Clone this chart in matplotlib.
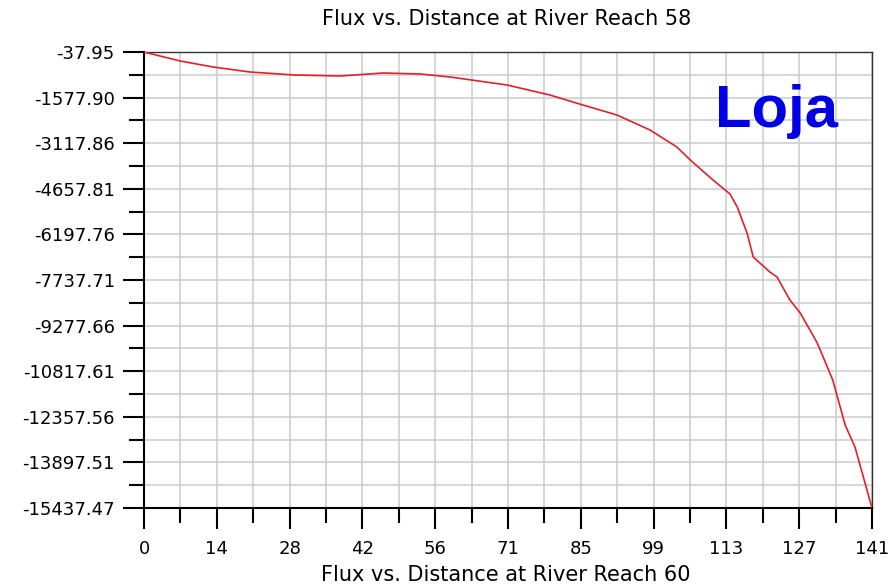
import numpy as np
import matplotlib
matplotlib.use('Agg')
import matplotlib.pyplot as plt
from matplotlib.ticker import FixedLocator

# Distance along the reach and flux values
distance = [0, 7.0, 13.4, 20.5, 29.2, 38.0, 46.3, 53.5, 59.3, 70.3, 78.6, 85.0,
            91.6, 98.0, 103.2, 105.8, 110.2, 113.5, 114.9, 116.8, 118.0, 121.2,
            122.6, 125.1, 127.1, 130.4, 133.4, 135.8, 137.7, 141.0]
flux = [-38, -342, -545, -713, -815, -849, -747, -781, -882, -1152, -1490, -1828,
        -2166, -2672, -3246, -3685, -4361, -4833, -5272, -6150, -6961, -7467,
        -7636, -8413, -8852, -9865, -11115, -12634, -13377, -15437.47]

x_ticks = [0, 14.1, 28.2, 42.3, 56.4, 70.5, 84.6, 98.7, 112.8, 126.9, 141]
x_labels = ['0', '14', '28', '42', '56', '71', '85', '99', '113', '127', '141']
y_ticks = [-37.95, -1577.90, -3117.86, -4657.81, -6197.76, -7737.71, -9277.66,
           -10817.61, -12357.56, -13897.51, -15437.47]
y_labels = ['-37.95', '-1577.90', '-3117.86', '-4657.81', '-6197.76', '-7737.71',
            '-9277.66', '-10817.61', '-12357.56', '-13897.51', '-15437.47']

fig = plt.figure(figsize=(8.96, 5.85), dpi=100)
ax = fig.add_axes([144 / 896, 77 / 585, 728 / 896, 456 / 585])

ax.plot(distance, flux, color='#e3202a', linewidth=1.2, zorder=3)

ax.set_xlim(0, 141)
ax.set_ylim(-15437.47, -37.95)

ax.set_xticks(x_ticks)
ax.set_xticklabels(x_labels)
ax.set_yticks(y_ticks)
ax.set_yticklabels(y_labels)

x_minor = [(a + b) / 2 for a, b in zip(x_ticks[:-1], x_ticks[1:])]
y_minor = [(a + b) / 2 for a, b in zip(y_ticks[:-1], y_ticks[1:])]
ax.xaxis.set_minor_locator(FixedLocator(x_minor))
ax.yaxis.set_minor_locator(FixedLocator(y_minor))

# tick lengths in points (1pt = 1.39px here)
ax.grid(True, which='both', color='#cccccc', linewidth=1.1, zorder=0)
ax.set_axisbelow(True)

ax.tick_params(which='major', direction='out', length=15, width=1.5, color='black',
               labelsize=13, pad=6)
ax.tick_params(axis='x', which='major', pad=8)
ax.tick_params(which='minor', direction='out', length=11, width=1.5, color='black')

for side in ['left', 'bottom']:
    ax.spines[side].set_linewidth(1.5)
for side in ['top', 'right']:
    ax.spines[side].set_linewidth(1.0)
    ax.spines[side].set_color('#333333')

fig.text(0.565, 0.968, 'Flux vs. Distance at River Reach 58', ha='center', va='center',
         fontsize=15)
fig.text(0.565, 0.017, 'Flux vs. Distance at River Reach 60', ha='center', va='center',
         fontsize=15)

ax.text(0.785, 0.87, 'Loja', transform=ax.transAxes, color='#0000e6',
        fontsize=43, fontweight='bold', family='Liberation Sans',
        ha='left', va='center', zorder=4)

fig.savefig('out.png', dpi=100)
